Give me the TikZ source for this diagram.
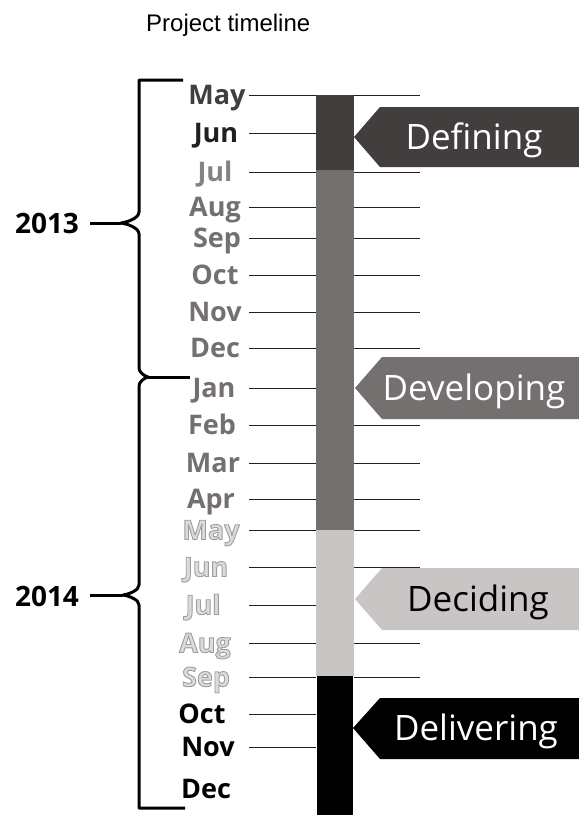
\documentclass[tikz,border=0pt]{standalone}
\usepackage{fontspec}
\setmainfont{Open Sans}
\newfontfamily\titlefont{Liberation Sans}
\definecolor{defc}{HTML}{423E3E}
\definecolor{devc}{HTML}{747070}
\definecolor{decc}{HTML}{C8C5C4}
\definecolor{delc}{HTML}{000000}
\definecolor{jun13}{HTML}{231F20}
\definecolor{julc}{HTML}{858282}
\definecolor{ghc}{HTML}{DCDADA}
\definecolor{tickc}{HTML}{231F20}
\newcommand\plainfmt[1]{#1}
\newcommand\ghostfmt[1]{\special{pdf:literal direct 2 Tr 0.9 w 0.62 0.61 0.61 RG}#1\special{pdf:literal direct 0 Tr}}
\begin{document}
\begin{tikzpicture}[x=1pt,y=-1pt,
  mon/.style={font=\bfseries\fontsize{27}{27}\selectfont, anchor=base, inner sep=0pt},
  yr/.style={font=\bfseries\fontsize{28}{28}\selectfont, anchor=base, inner sep=0pt},
  tickline/.style={line width=1pt, draw=tickc},
  bracel/.style={line width=3pt, draw=black},
  lab/.style={font=\fontsize{35}{35}\selectfont, inner sep=0pt, anchor=base}]
\useasboundingbox (0,0) rectangle (579,815);
% title
\node[font=\titlefont\fontsize{24}{24}\selectfont, anchor=base west, inner sep=0pt] (title) at (146,31) {Project timeline};
% ticks and month labels
\foreach \i/\nm/\ty/\cx/\col/\fmt/\r in {
  1/May/95/217/defc/\plainfmt/1,
  2/Jun/133/216/jun13/\plainfmt/0,
  3/Jul/172/215/julc/\plainfmt/1,
  4/Aug/207/215/devc/\plainfmt/1,
  5/Sep/238/217/devc/\plainfmt/1,
  6/Oct/275/215/devc/\plainfmt/1,
  7/Nov/312/215/devc/\plainfmt/1,
  8/Dec/348/215/devc/\plainfmt/1,
  9/Jan/388/214/devc/\plainfmt/0,
  10/Feb/425/212/devc/\plainfmt/1,
  11/Mar/463/213/devc/\plainfmt/1,
  12/Apr/499/211/devc/\plainfmt/1,
  13/May/530/211/ghc/\ghostfmt/1,
  14/Jun/567/206/ghc/\ghostfmt/1,
  15/Jul/605/203/ghc/\ghostfmt/0,
  16/Aug/643/205/ghc/\ghostfmt/1,
  17/Sep/677/206/ghc/\ghostfmt/1,
  18/Oct/714/202/black/\plainfmt/0,
  19/Nov/747/208/black/\plainfmt/0}{
  \coordinate (tl\i) at (249,\ty);
  \coordinate (tb\i) at (316,\ty);
  \draw[tickline] (tl\i) -- (tb\i);
  \ifnum\r=1
    \coordinate (tr\i) at (354,\ty);
    \coordinate (te\i) at (420,\ty);
    \draw[tickline] (tr\i) -- (te\i);
  \fi
  \node[mon, text=\col] (m\i) at (\cx,\ty+9.5) {\fmt{\nm}};
}
\node[mon, text=black] (m20) at (206,789+9.5) {Dec};
% bar
\fill[defc] (316,95) rectangle (354,170);
\fill[devc] (316,170) rectangle (354,530);
\fill[decc] (316,530) rectangle (354,676);
\fill[delc] (317,676) rectangle (353,815);
% flags
\fill[defc] (354,137) -- (380,107) -- (579,107) -- (579,167) -- (380,167) -- cycle;
\fill[devc] (355,388) -- (382,357) -- (579,357) -- (579,419) -- (382,419) -- cycle;
\fill[decc] (355,599) -- (382,568) -- (579,568) -- (579,630) -- (382,630) -- cycle;
\fill[delc] (353,728) -- (380,698) -- (579,698) -- (579,759) -- (380,759) -- cycle;
\node[lab, text=white] (l1) at (474,149) {Defining};
\node[lab, text=white] (l2) at (474,400) {Developing};
\node[lab, text=black] (l3) at (478,611) {Deciding};
\node[lab, text=white] (l4) at (476,740) {Delivering};
% years
\node[yr] (y13) at (47,233) {2013};
\node[yr] (y14) at (47,606) {2014};
\coordinate (s13) at (90,223);
\coordinate (s14) at (90,595);
\coordinate (b13) at (121,223);
\coordinate (b14) at (123,595);
\coordinate (bj) at (148,377);
\draw[bracel] (s13) -- (b13);
\draw[bracel] (s14) -- (b14);
% braces
\draw[bracel, line join=round] (183,80) -- (139,80) -- (139,212)
  .. controls (139,218) and (128,222) .. (b13)
  .. controls (128,224) and (139,228) .. (139,234)
  -- (139,368) .. controls (139,372) and (144,376) .. (bj)
  .. controls (144,378) and (139,382) .. (139,386)
  -- (139,585) .. controls (139,590) and (130,594) .. (b14)
  .. controls (130,596) and (139,600) .. (139,605)
  -- (139,808) -- (185,808);
\coordinate (je) at (190,377);
\draw[bracel] (bj) -- (je);
\end{tikzpicture}
\end{document}
